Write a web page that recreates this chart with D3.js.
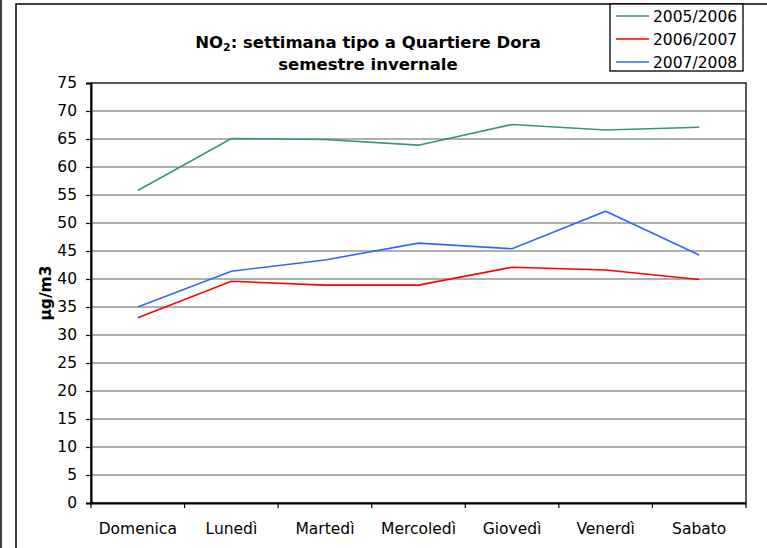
<!DOCTYPE html>
<html>
<head>
<meta charset="utf-8">
<script src="https://cdn.jsdelivr.net/npm/d3@7"></script>
<style>
  body { margin: 0; background: #fff; }
  svg { display: block; font-family: "DejaVu Sans", Verdana, sans-serif; }
</style>
</head>
<body>
<svg id="chart" width="767" height="548"></svg>
<script>
// weekdays on the x axis
var days = ["Domenica", "Lunedì", "Martedì", "Mercoledì", "Giovedì", "Venerdì", "Sabato"];
// NO2 mean per weekday, winter semester (µg/m3)
var v0506 = [55.8, 65.1, 64.9, 63.9, 67.6, 66.6, 67.1];
var v0607 = [33.1, 39.6, 38.9, 38.9, 42.1, 41.6, 39.9];
var v0708 = [35.0, 41.4, 43.4, 46.4, 45.4, 52.1, 44.3];
var seriesNames = ["2005/2006", "2006/2007", "2007/2008"];
var seriesColors = ["#339966", "#ff0000", "#3366ff"];
var yTicks = d3.range(0, 80, 5);

var series = [v0506, v0607, v0708].map(function(vals, i) {
  return {name: seriesNames[i], color: seriesColors[i], values: vals};
});

var svg = d3.select("#chart");
// plot box (window.top is read-only, so no plain "top" here)
var pLeft = 91, pRight = 746, pTop = 83, pBottom = 503;

// outer frames
svg.append("line").attr("x1", 1).attr("x2", 1).attr("y1", 0).attr("y2", 548)
  .attr("stroke", "#000").attr("stroke-width", 1.5);
svg.append("rect").attr("x", 16).attr("y", 4).attr("width", 800).attr("height", 600)
  .attr("fill", "none").attr("stroke", "#000").attr("stroke-width", 1.5);

var x = d3.scaleBand().domain(days).range([pLeft, pRight]);
var y = d3.scaleLinear().domain([0, 75]).range([pBottom, pTop]);

// gridlines
svg.append("g").selectAll("line")
  .data(yTicks.filter(function(t){ return t > 0 && t < 75; }))
  .enter().append("line")
    .attr("x1", pLeft).attr("x2", pRight)
    .attr("y1", function(d){ return y(d); }).attr("y2", function(d){ return y(d); })
    .attr("stroke", "#969696").attr("stroke-width", 1.5);

// plot border
svg.append("rect").attr("x", pLeft).attr("y", pTop)
  .attr("width", pRight - pLeft).attr("height", pBottom - pTop)
  .attr("fill", "none").attr("stroke", "#000").attr("stroke-width", 1.3);

// y axis
var yAxis = svg.append("g").attr("transform", "translate(" + pLeft + ",0)")
  .call(d3.axisLeft(y).tickValues(yTicks).tickSize(5).tickPadding(9).tickFormat(d3.format("d")));
yAxis.select(".domain").attr("stroke", "#000").attr("stroke-width", 2);
yAxis.selectAll(".tick line").attr("stroke", "#000").attr("stroke-width", 1.2);
yAxis.selectAll("text").attr("font-size", "15.5px").attr("font-family", "DejaVu Sans").attr("fill", "#000");

// x axis with ticks at category boundaries
var xAxis = svg.append("g").attr("transform", "translate(0," + pBottom + ")")
  .call(d3.axisBottom(x).tickSize(0).tickPadding(20));
xAxis.select(".domain").attr("stroke", "#000").attr("stroke-width", 2);
xAxis.selectAll("text").attr("font-size", "15.5px").attr("font-family", "DejaVu Sans").attr("fill", "#000");
xAxis.selectAll("line.bound")
  .data(days.concat(["end"]))
  .enter().append("line").attr("class", "bound")
    .attr("x1", function(d, i){ return pLeft + i * x.bandwidth(); })
    .attr("x2", function(d, i){ return pLeft + i * x.bandwidth(); })
    .attr("y1", 0).attr("y2", 5)
    .attr("stroke", "#000").attr("stroke-width", 1.2);

// y axis title
svg.append("text")
  .attr("transform", "translate(51," + ((pTop + pBottom) / 2) + ") rotate(-90)")
  .attr("text-anchor", "middle")
  .attr("font-size", "15.5px").attr("font-weight", "bold")
  .text("µg/m3");

// series lines
var line = d3.line()
  .x(function(d, i){ return x(days[i]) + x.bandwidth() / 2; })
  .y(function(d){ return y(d); });

svg.append("g").selectAll("path")
  .data(series)
  .enter().append("path")
    .attr("d", function(d){ return line(d.values); })
    .attr("fill", "none")
    .attr("stroke", function(d){ return d.color; })
    .attr("stroke-width", 1.6);

// title
var title = svg.append("text").attr("x", 368).attr("y", 48)
  .attr("text-anchor", "middle").attr("font-size", "16.5px").attr("font-weight", "bold");
title.append("tspan").text("NO");
title.append("tspan").attr("font-size", "11px").attr("dy", 3).text("2");
title.append("tspan").attr("dy", -3).text(": settimana tipo a Quartiere Dora");
svg.append("text").attr("x", 368).attr("y", 70)
  .attr("text-anchor", "middle").attr("font-size", "16.5px").attr("font-weight", "bold")
  .text("semestre invernale");

// legend
var legend = svg.append("g");
legend.append("rect").attr("x", 610).attr("y", 4).attr("width", 133).attr("height", 67)
  .attr("fill", "#fff").attr("stroke", "#000").attr("stroke-width", 1.3);
var items = legend.selectAll("g.item")
  .data(series)
  .enter().append("g").attr("class", "item")
    .attr("transform", function(d, i){ return "translate(0," + (16 + i * 23) + ")"; });
items.append("line").attr("x1", 616).attr("x2", 649).attr("y1", 0).attr("y2", 0)
  .attr("stroke", function(d){ return d.color; }).attr("stroke-width", 1.6);
items.append("text").attr("x", 653).attr("y", 0).attr("dy", "0.36em")
  .attr("font-size", "15.5px")
  .text(function(d){ return d.name; });
</script>
</body>
</html>
